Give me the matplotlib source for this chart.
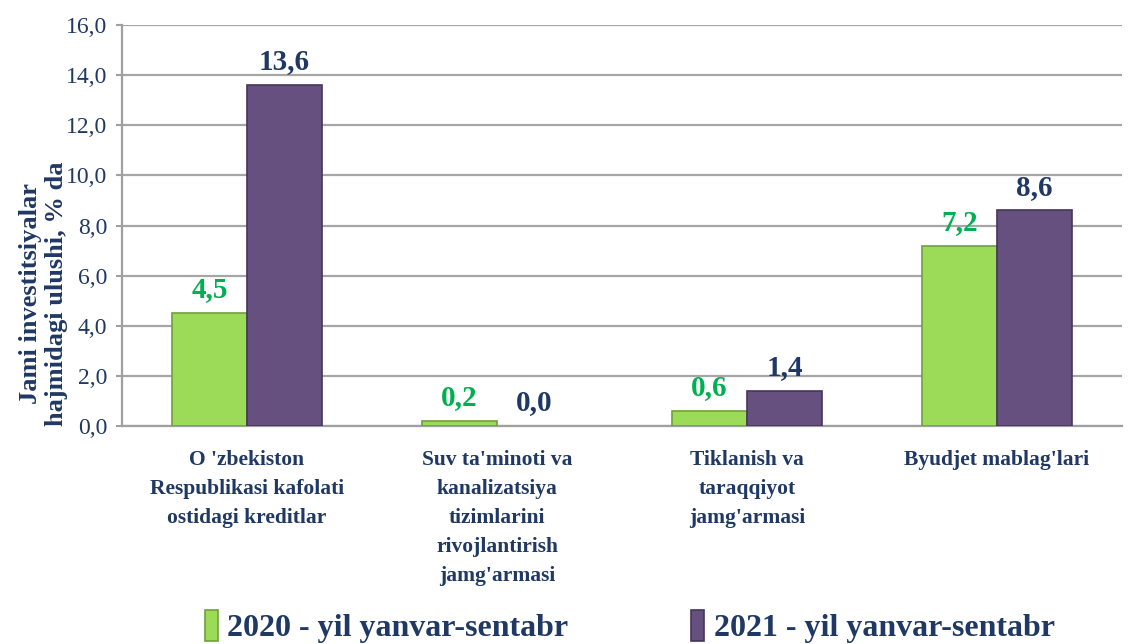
import numpy as np
import matplotlib
matplotlib.use("Agg")
import matplotlib.pyplot as plt

categories = ["O 'zbekiston\nRespublikasi kafolati\nostidagi kreditlar",
              "Suv ta'minoti va\nkanalizatsiya\ntizimlarini\nrivojlantirish\njamg'armasi",
              "Tiklanish va\ntaraqqiyot\njamg'armasi",
              "Byudjet mablag'lari"]
values_2020 = [4.5, 0.2, 0.6, 7.2]
values_2021 = [13.6, 0.0, 1.4, 8.6]
series_names = ["2020 - yil yanvar-sentabr", "2021 - yil yanvar-sentabr"]

navy = "#1F3864"
green = "#9BDB58"
purple = "#665080"

plt.rcParams['font.family'] = ['Liberation Serif', 'DejaVu Serif']

fig = plt.figure(figsize=(11.43, 6.44), dpi=100)
ax = fig.add_axes([122/1143, 1-426/644, 1000/1143, 401/644])

x = np.arange(len(categories))
w = 0.3
b1 = ax.bar(x - w/2, values_2020, w, color=green, edgecolor="#6F9F3C",
            linewidth=1.2, label=series_names[0], zorder=3)
b2 = ax.bar(x + w/2, values_2021, w, color=purple, edgecolor="#45365A",
            linewidth=1.2, label=series_names[1], zorder=3)

for bars, col in ((b1, "#00B050"), (b2, navy)):
    for r in bars:
        h = r.get_height()
        if h == 0:
            r.set_linewidth(0)
        ax.annotate(("%.1f" % h).replace(".", ","),
                    (r.get_x() + r.get_width()/2, h),
                    xytext=(0, 7), textcoords="offset points",
                    ha="center", va="bottom", fontsize=21,
                    fontweight="bold", color=col)

ax.set_xlim(-0.5, 3.5)
ax.set_ylim(0, 16)
ticks = np.arange(0, 16.1, 2)
ax.set_yticks(ticks)
ax.set_yticklabels([("%.1f" % v).replace(".", ",") for v in ticks],
                   fontsize=17, color=navy)
ax.set_xticks(x)
ax.set_xticklabels(categories, fontsize=15.5, fontweight="bold", color=navy,
                   linespacing=1.6, va="top")
ax.tick_params(axis="x", length=0, pad=17)
ax.tick_params(axis="y", length=4.5, color="#A0A0A0", width=1.5, pad=6)

ax.grid(axis="y", color="#A6A6A6", linewidth=1.6, zorder=0)
ax.set_axisbelow(True)
for s in ("top", "right"):
    ax.spines[s].set_visible(False)
for s in ("left", "bottom"):
    ax.spines[s].set_color("#A0A0A0")
    ax.spines[s].set_linewidth(1.6)

ax.set_ylabel("Jami investitsiyalar\nhajmidagi ulushi, % da", fontsize=19,
              fontweight="bold", color=navy, linespacing=1.15)
ax.yaxis.set_label_coords(-0.054, 0.33)

fig.legend(handles=[b1, b2], loc="center", bbox_to_anchor=(0.551, 0.027),
           ncol=2, frameon=False, handlelength=0.4, handleheight=1.1,
           handletextpad=0.3, columnspacing=3.85,
           prop={"size": 23, "weight": "bold"}, labelcolor=navy)

plt.savefig("out.png", dpi=100)
